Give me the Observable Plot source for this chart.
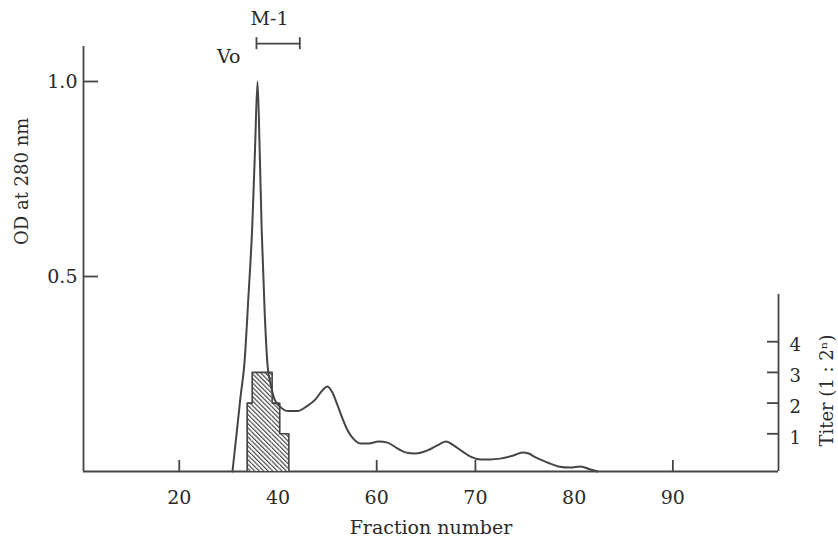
<!DOCTYPE html>
<html>
<head>
<meta charset="utf-8">
<script src="https://cdn.jsdelivr.net/npm/d3@7"></script>
<script src="https://cdn.jsdelivr.net/npm/@observablehq/plot@0.6"></script>
<style>
  html, body { margin: 0; padding: 0; background: #fff; }
  svg { display: block; }
</style>
</head>
<body>
<div id="chart"></div>
<script>
// Elution profile: absorbance at 280 nm per fraction
const odFraction = [45.39, 45.8, 46.2, 46.61, 47.01, 47.39, 47.67, 47.93, 48.15, 48.35, 48.65, 48.95, 49.25, 49.65, 50.25, 51.05,
  52.0, 52.9, 53.8, 54.5, 55.0, 55.5, 56.0, 56.5, 57.1, 57.6, 58.35, 59.2, 60.2, 61.1, 62.1, 62.9, 63.9,
  65.15, 66.15, 67.0, 67.8, 68.7, 69.5, 70.5, 71.5, 72.5, 73.85, 74.75, 75.4, 76.1, 77.3, 78.4, 79.6,
  80.65, 81.65, 82.35];
const odValue = [0, 0.095, 0.19, 0.28, 0.45, 0.626, 0.823, 1.0, 0.82, 0.62, 0.41, 0.27, 0.225, 0.185, 0.165, 0.155,
  0.155, 0.167, 0.185, 0.208, 0.218, 0.203, 0.172, 0.138, 0.103, 0.085, 0.072, 0.072, 0.077, 0.074, 0.059, 0.049, 0.046,
  0.054, 0.067, 0.077, 0.067, 0.051, 0.038, 0.031, 0.031, 0.033, 0.041, 0.049, 0.046, 0.036, 0.023, 0.013, 0.010,
  0.013, 0.005, 0];

// Hemagglutination titer (log2) across the void-volume fractions
const titerFrom = [46.88, 47.39, 49.41, 50.18];
const titerTo = [47.39, 49.41, 50.18, 51.10];
const titerValue = [2, 3, 2, 1];

// Axis ticks and labels
const xTickPos = [40, 50, 60, 70, 80, 90];
const xTickText = ["20", "40", "60", "70", "80", "90"];
const xTickMarks = [40, 60, 70, 90];
const odTicks = [0.5, 1.0];
const titerTicks = [1, 2, 3, 4];

// Pooled fractions M-1
const m1Range = [47.82, 52.21];

// Frame limits in data units
const xLeft = 30.3, xRight = 100.7;
const odTop = 1.09;
const titerTop = 5.54;

// Titer values share the plot with OD, placed on their own right-hand scale
const titerToOd = t => 0.018 + 0.0787 * t;

const profile = odFraction.map((f, i) => ({f, od: odValue[i]}));
const titer = titerValue.map((t, i) => ({x1: titerFrom[i], x2: titerTo[i], t}));
const outline = [{x: titerFrom[0], y: 0}];
titer.forEach(d => { outline.push({x: d.x1, y: titerToOd(d.t)}, {x: d.x2, y: titerToOd(d.t)}); });
outline.push({x: titerTo[titerTo.length - 1], y: 0});

const ink = "#454545";
const textInk = "#2a2a2a";
const sw = 1.8;

const svg = Plot.plot({
  width: 838,
  height: 540,
  marginLeft: 83,
  marginRight: 60,
  marginTop: 42,
  marginBottom: 69,
  style: {fontFamily: "'DejaVu Serif', serif", background: "#fff", color: textInk, overflow: "visible"},
  x: {domain: [xLeft, xRight]},
  y: {domain: [0, 1.1]},
  marks: [
    // x axis
    Plot.ruleY([0], {x1: xLeft, x2: xRight, stroke: ink, strokeWidth: sw}),
    Plot.ruleX(xTickMarks, {y1: 0, y2: 11 / 390, stroke: ink, strokeWidth: sw}),
    Plot.axisX({ticks: xTickPos, tickFormat: d => xTickText[xTickPos.indexOf(d)], tickSize: 0, tickPadding: 19,
      label: null, fontSize: 19, fill: textInk}),
    Plot.text(["Fraction number"], {frameAnchor: "bottom", dy: 56, fontSize: 19, fill: textInk, lineAnchor: "middle"}),
    // titer histogram
    Plot.rectY(titer, {x1: "x1", x2: "x2", y1: 0, y2: d => titerToOd(d.t), fill: "url(#hatch)"}),
    Plot.line(outline, {x: "x", y: "y", stroke: ink, strokeWidth: 1.6}),
    // left OD axis
    Plot.ruleX([xLeft], {y1: 0, y2: odTop, stroke: ink, strokeWidth: sw}),
    Plot.ruleY(odTicks, {x1: xLeft, x2: xLeft + 15 / 9.872, stroke: ink, strokeWidth: sw}),
    Plot.axisY({ticks: odTicks, tickFormat: ".1f", tickSize: 0, tickPadding: 6, label: null, fontSize: 19, fill: textInk}),
    Plot.text(["OD at 280 nm"], {x: 24.1, y: 0.744, rotate: -90, fontSize: 18, fill: textInk, lineAnchor: "middle"}),
    // right titer axis
    Plot.ruleX([xRight], {y1: 0, y2: titerToOd(titerTop), stroke: ink, strokeWidth: sw}),
    Plot.ruleY(titerTicks, {y: titerToOd, x1: xRight - 11 / 9.872, x2: xRight, stroke: ink, strokeWidth: sw}),
    Plot.text(titerTicks, {x: xRight, y: titerToOd, text: d => String(d), dx: 11, dy: 4, textAnchor: "start",
      fontSize: 18, fill: textInk}),
    Plot.text(["Titer (1 : 2ⁿ)"], {x: xRight + 49 / 9.872, y: titerToOd(2.41), rotate: -90, fontSize: 18,
      fill: textInk, lineAnchor: "middle"}),
    // OD profile
    Plot.line(profile, {x: "f", y: "od", curve: "monotone-x", stroke: ink, strokeWidth: 2}),
    // annotations
    Plot.text(["Vo"], {x: 45.0, y: 1.064, fontSize: 19, fill: textInk, lineAnchor: "middle"}),
    Plot.text(["M-1"], {x: 49.14, y: 1.1615, fontSize: 19, fill: textInk, lineAnchor: "middle"}),
    Plot.ruleY([1.097], {x1: m1Range[0], x2: m1Range[1], stroke: ink, strokeWidth: sw}),
    Plot.ruleX(m1Range, {y1: 1.097 - 6 / 390, y2: 1.097 + 6 / 390, stroke: ink, strokeWidth: sw})
  ]
});

// diagonal hatching used by the titer bars
const ns = "http://www.w3.org/2000/svg";
const defs = document.createElementNS(ns, "defs");
const pattern = document.createElementNS(ns, "pattern");
pattern.setAttribute("id", "hatch");
pattern.setAttribute("patternUnits", "userSpaceOnUse");
pattern.setAttribute("width", "3.2");
pattern.setAttribute("height", "10");
pattern.setAttribute("patternTransform", "rotate(-45)");
const bg = document.createElementNS(ns, "rect");
bg.setAttribute("width", "3.2");
bg.setAttribute("height", "10");
bg.setAttribute("fill", "#fff");
const stripe = document.createElementNS(ns, "line");
stripe.setAttribute("x1", "0.6");
stripe.setAttribute("x2", "0.6");
stripe.setAttribute("y1", "0");
stripe.setAttribute("y2", "10");
stripe.setAttribute("stroke", "#3a3a3a");
stripe.setAttribute("stroke-width", "1.1");
pattern.appendChild(bg);
pattern.appendChild(stripe);
defs.appendChild(pattern);
svg.insertBefore(defs, svg.firstChild);

document.getElementById("chart").appendChild(svg);
</script>
</body>
</html>
